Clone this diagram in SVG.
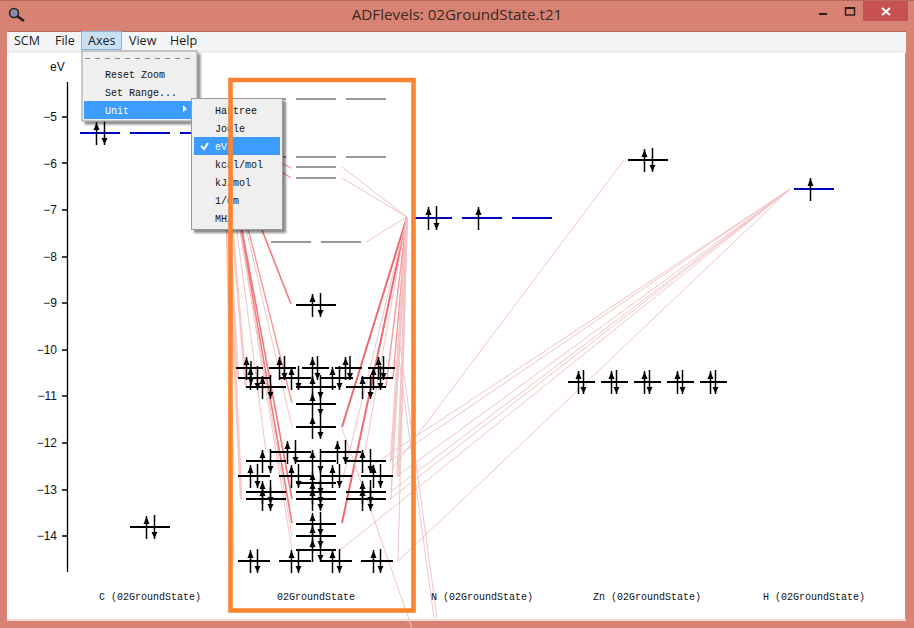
<svg xmlns="http://www.w3.org/2000/svg" width="914" height="628" viewBox="0 0 914 628">
<style>
.k{stroke:#000;stroke-width:2;fill:none;shape-rendering:crispEdges}
.b{stroke:#0000c0;stroke-width:2;fill:none;shape-rendering:crispEdges}
.g{stroke:#999;stroke-width:2;fill:none;shape-rendering:crispEdges}
.ax{stroke:#000;stroke-width:1.3;fill:none}
.r{stroke:#ee6a70;stroke-width:2;fill:none}
.l{stroke:#f0787e;stroke-width:1.6;fill:none}
.m{stroke:#f4999c;stroke-width:1.4;fill:none}
.p{stroke:#f9c8c8;stroke-width:2.5;fill:none}
.t{stroke:#f0c4c4;stroke-width:1;fill:none}
.ui{font:12.5px "Open Sans","Liberation Sans",sans-serif;fill:#1a1a1a}
.tk{font:12px "Liberation Sans",sans-serif;fill:#111;text-anchor:end}
.mn{font:10px "Liberation Mono",monospace;fill:#111}
.ml{font:10px "Liberation Mono",monospace;fill:#111}
</style>
<defs>
<g id="u"><path d="M0-11V12" stroke="#000" stroke-width="1.5"/><path d="M0-10.5L3-3H-3Z" fill="#000"/></g>
<g id="d"><path d="M0-12V12" stroke="#000" stroke-width="1.5"/><path d="M0 11.5L3 5H-3Z" fill="#000"/></g>
<filter id="sh" x="-10%" y="-10%" width="125%" height="125%"><feDropShadow dx="3" dy="3" stdDeviation="1.2" flood-color="#000" flood-opacity=".45"/></filter>
</defs>

<rect width="914" height="628" fill="#d78272"/>
<rect width="914" height="1" fill="#b56a5c"/>
<rect x="7" y="31" width="899" height="1" fill="#b56a5c"/>
<rect x="7" y="32" width="899" height="18" fill="#f4f5f6"/>
<rect x="7" y="50" width="899" height="3" fill="#efefef"/>
<rect x="7" y="53" width="898" height="566" fill="#fff"/>
<rect x="7" y="619" width="899" height="2" fill="#f3d9d3"/>

<g id="titlebar">
<circle cx="14" cy="13" r="4.5" fill="#8a8aa8" stroke="#222" stroke-width="1.5"/>
<path d="M17 16L24 21" stroke="#222" stroke-width="2.6"/>
<text x="457" y="20" text-anchor="middle" font-family="Open Sans,Liberation Sans,sans-serif" font-size="15.2" fill="#3b2a26">ADFlevels: 02GroundState.t21</text>
<rect x="819" y="13" width="8" height="2" fill="#2b1a16"/>
<rect x="845.5" y="8" width="9" height="7" fill="none" stroke="#2b1a16" stroke-width="1.4"/>
<rect x="845" y="7" width="10" height="2" fill="#2b1a16"/>
<rect x="863" y="1" width="45" height="20" fill="#c75050"/>
<path d="M882 8L890 15M890 8L882 15" stroke="#fff" stroke-width="2"/>
</g>

<g id="axis">
<path class="ax" d="M67.5 82V572M62 117H67M62 163H67M62 210H67M62 257H67M62 303H67M62 350H67M62 396H67M62 443H67M62 490H67M62 536H67"/>
<text x="50" y="71" font-family="Liberation Sans,sans-serif" font-size="12" fill="#111">eV</text>
<text class="tk" x="57" y="121">−5</text><text class="tk" x="57" y="168">−6</text><text class="tk" x="57" y="214">−7</text><text class="tk" x="57" y="261">−8</text><text class="tk" x="57" y="307">−9</text>
<text class="tk" x="57" y="354">−10</text><text class="tk" x="57" y="400">−11</text><text class="tk" x="57" y="447">−12</text><text class="tk" x="57" y="494">−13</text><text class="tk" x="57" y="540">−14</text>
</g>

<g id="connectors">
<path class="r" d="M407 217L342 427M407 217L342 523"/>
<path class="l" d="M224 133L291 304M224 133L292 523M224 133L292 499"/>
<path class="m" d="M224 133L292 403M224 133L291 168M224 133L291 178M407 217L397 368M407 217L393 378M407 217L386 387"/>
<path class="p" d="M224 133L241 492M224 133L241 499M224 133L234 368M224 133L238 378M224 133L246 387M407 217L399 477M407 217L397 377M407 217L391 461"/>
<path class="t" d="M224 133L292 427M224 133L266 452M224 133L292 550M224 133L292 536M224 133L234 561M224 133L234 476M407 217L342 167M407 217L342 178M407 217L366 242M407 217L365 452M407 217L342 482M407 217L398 561M407 217L391 492M407 217L391 499M407 217L397 476M624 160L392 469M790 189L398 561M790 189L340 550M790 189L390 461M790 189L397 476M790 189L390 492M790 189L356 476M790 189L390 499M397 345L434 618M400 345L437 618M342 428L412 628"/>
</g>

<g id="c-levels">
<g id="c1"><path class="b" d="M80 133H120"/><use href="#u" x="96.5" y="133"/><use href="#d" x="104.5" y="133"/></g>
<g id="c2"><path class="b" d="M130 133H170"/></g>
<g id="c3"><path class="b" d="M180 133H220"/></g>
<g id="c4"><path class="k" d="M130 527H170"/><use href="#u" x="146.5" y="527"/><use href="#d" x="154.5" y="527"/></g>
</g>

<g id="o2-empty">
<path class="g" d="M246 99H286M296 99H336M346 99H386M246 157H286M296 157H336M346 157H386M296 167H336M296 178H336M271 242H311M321 242H361"/>
</g>

<g id="o2-occupied">
<g id="a0"><path class="k" d="M296 305H336"/><use href="#u" x="312.5" y="305"/><use href="#d" x="320.5" y="305"/></g>
<g id="a1"><path class="k" d="M236 368H263"/><use href="#u" x="246.5" y="368"/><use href="#d" x="251" y="373"/></g>
<g id="a2"><path class="k" d="M238 378H270"/><use href="#u" x="250.5" y="378"/><use href="#d" x="257.5" y="378"/></g>
<g id="a3"><path class="k" d="M246 387H286"/><use href="#u" x="262.5" y="387"/><use href="#d" x="270.5" y="387"/></g>
<g id="a4"><path class="k" d="M269 368H296"/><use href="#u" x="279.5" y="368"/><use href="#d" x="284.5" y="368"/></g>
<g id="a5"><path class="k" d="M279 378H311"/><use href="#u" x="291.5" y="378"/><use href="#d" x="298.5" y="378"/></g>
<g id="a6"><path class="k" d="M302 368H329"/><use href="#u" x="312.5" y="368"/><use href="#d" x="317.5" y="368"/></g>
<g id="a7"><path class="k" d="M296 387H336"/><use href="#u" x="312.5" y="387"/><use href="#d" x="320.5" y="387"/></g>
<g id="a8"><path class="k" d="M321 378H353"/><use href="#u" x="332.5" y="378"/><use href="#d" x="339.5" y="378"/></g>
<g id="a9"><path class="k" d="M335 368H362"/><use href="#u" x="345.5" y="368"/><use href="#d" x="350" y="368"/></g>
<g id="a10"><path class="k" d="M346 387H386"/><use href="#u" x="362.5" y="387"/><use href="#d" x="370.5" y="387"/></g>
<g id="a11"><path class="k" d="M368 368H395"/><use href="#u" x="378.5" y="368"/><use href="#d" x="383.5" y="368"/></g>
<g id="a12"><path class="k" d="M361 378H393"/><use href="#u" x="373.5" y="378"/><use href="#d" x="380.5" y="378"/></g>
<g id="a13"><path class="k" d="M296 404H336"/><use href="#u" x="312.5" y="404"/><use href="#d" x="320.5" y="404"/></g>
<g id="a14"><path class="k" d="M296 427H336"/><use href="#u" x="312.5" y="427"/><use href="#d" x="320.5" y="427"/></g>
<g id="a15"><path class="k" d="M270 452H311"/><use href="#u" x="287.5" y="452"/><use href="#d" x="295.5" y="452"/></g>
<g id="a16"><path class="k" d="M321 452H361"/><use href="#u" x="337.5" y="452"/><use href="#d" x="345.5" y="452"/></g>
<g id="a17"><path class="k" d="M246 461H286"/><use href="#u" x="262.5" y="461"/><use href="#d" x="270.5" y="461"/></g>
<g id="a18"><path class="k" d="M296 461H336"/><use href="#u" x="312.5" y="461"/><use href="#d" x="320.5" y="461"/></g>
<g id="a19"><path class="k" d="M346 461H386"/><use href="#u" x="362.5" y="461"/><use href="#d" x="370.5" y="461"/></g>
<g id="a20"><path class="k" d="M238 476H270"/><use href="#u" x="250.5" y="476"/><use href="#d" x="257.5" y="476"/></g>
<g id="a21"><path class="k" d="M279 476H311"/><use href="#u" x="291.5" y="476"/><use href="#d" x="298.5" y="476"/></g>
<g id="a22"><path class="k" d="M321 476H352"/><use href="#u" x="332.5" y="476"/><use href="#d" x="339.5" y="476"/></g>
<g id="a23"><path class="k" d="M361 476H393"/><use href="#u" x="373.5" y="476"/><use href="#d" x="380.5" y="476"/></g>
<g id="a24"><path class="k" d="M296 483H336"/><use href="#u" x="312.5" y="483"/><use href="#d" x="320.5" y="483"/></g>
<g id="a25"><path class="k" d="M246 492H286"/><use href="#u" x="262.5" y="492"/><use href="#d" x="270.5" y="492"/></g>
<g id="a26"><path class="k" d="M246 499H286"/><use href="#u" x="262.5" y="499"/><use href="#d" x="270.5" y="499"/></g>
<g id="a27"><path class="k" d="M296 492H336"/><use href="#u" x="312.5" y="492"/><use href="#d" x="320.5" y="492"/></g>
<g id="a28"><path class="k" d="M296 499H336"/><use href="#u" x="312.5" y="499"/><use href="#d" x="320.5" y="499"/></g>
<g id="a29"><path class="k" d="M346 492H386"/><use href="#u" x="362.5" y="492"/><use href="#d" x="370.5" y="492"/></g>
<g id="a30"><path class="k" d="M346 499H386"/><use href="#u" x="362.5" y="499"/><use href="#d" x="370.5" y="499"/></g>
<g id="a31"><path class="k" d="M296 524H336"/><use href="#u" x="312.5" y="524"/><use href="#d" x="320.5" y="524"/></g>
<g id="a32"><path class="k" d="M296 536H336"/><use href="#u" x="312.5" y="536"/><use href="#d" x="320.5" y="536"/></g>
<g id="a33"><path class="k" d="M296 550H336"/><use href="#u" x="312.5" y="550"/><use href="#d" x="320.5" y="550"/></g>
<g id="a34"><path class="k" d="M238 561H270"/><use href="#u" x="250.5" y="561"/><use href="#d" x="257.5" y="561"/></g>
<g id="a35"><path class="k" d="M279 561H311"/><use href="#u" x="291.5" y="561"/><use href="#d" x="298.5" y="561"/></g>
<g id="a36"><path class="k" d="M321 561H352"/><use href="#u" x="332.5" y="561"/><use href="#d" x="339.5" y="561"/></g>
<g id="a37"><path class="k" d="M361 561H393"/><use href="#u" x="373.5" y="561"/><use href="#d" x="380.5" y="561"/></g>
</g>

<g id="n-levels">
<g id="n1"><path class="b" d="M412 218H452"/><use href="#u" x="428.5" y="218"/><use href="#d" x="436.5" y="218"/></g>
<g id="n2"><path class="b" d="M462 218H502"/><use href="#u" x="478.5" y="218"/></g>
<g id="n3"><path class="b" d="M512 218H552"/></g>
</g>
<g id="zn-levels">
<g id="z0"><path class="k" d="M628 160H668"/><use href="#u" x="644.5" y="160"/><use href="#d" x="652.5" y="160"/></g>
<g id="z1"><path class="k" d="M568 382H595"/><use href="#u" x="578.5" y="382"/><use href="#d" x="583.5" y="382"/></g>
<g id="z2"><path class="k" d="M601 382H628"/><use href="#u" x="611.5" y="382"/><use href="#d" x="616.5" y="382"/></g>
<g id="z3"><path class="k" d="M634 382H661"/><use href="#u" x="644.5" y="382"/><use href="#d" x="649.5" y="382"/></g>
<g id="z4"><path class="k" d="M667 382H694"/><use href="#u" x="677.5" y="382"/><use href="#d" x="682.5" y="382"/></g>
<g id="z5"><path class="k" d="M700 382H727"/><use href="#u" x="710.5" y="382"/><use href="#d" x="715.5" y="382"/></g>
</g>
<g id="h-levels"><g id="h1"><path class="b" d="M794 189H834"/><use href="#u" x="810.5" y="189"/></g></g>

<g id="column-labels">
<text class="ml" x="99" y="600">C (02GroundState)</text>
<text class="ml" x="277" y="600">02GroundState</text>
<text class="ml" x="431" y="600">N (02GroundState)</text>
<text class="ml" x="593" y="600">Zn (02GroundState)</text>
<text class="ml" x="763" y="600">H (02GroundState)</text>
</g>

<g id="menubar">
<rect x="81.5" y="31.5" width="40" height="18" fill="#c8e0f4" stroke="#8cb4d8"/>
<text class="ui" x="14" y="45">SCM</text>
<text class="ui" x="55" y="45">File</text>
<text class="ui" x="88" y="45">Axes</text>
<text class="ui" x="129" y="45">View</text>
<text class="ui" x="170" y="45">Help</text>
</g>

<g id="axes-menu">
<rect x="82" y="51" width="115" height="70" fill="#efefef" stroke="#999" filter="url(#sh)"/>
<path d="M85 58.5H194" stroke="#888" stroke-dasharray="5 5" fill="none"/>
<rect x="84" y="101" width="108" height="18" fill="#3c9cff"/>
<text class="mn" x="105" y="78">Reset Zoom</text>
<text class="mn" x="105" y="96">Set Range...</text>
<text class="mn" x="105" y="114" style="fill:#fff">Unit</text>
<path d="M183 105L187 109L183 112Z" fill="#fff"/>
</g>
<g id="unit-menu">
<rect x="191.5" y="98.5" width="91" height="131" fill="#efefef" stroke="#999" filter="url(#sh)"/>
<rect x="194" y="137" width="86" height="18" fill="#3c9cff"/>
<path d="M201 146L204 149L208 143" stroke="#fff" stroke-width="2" fill="none"/>
<text class="mn" x="215" y="114">Hartree</text>
<text class="mn" x="215" y="132">Joule</text>
<text class="mn" x="215" y="150" style="fill:#fff">eV</text>
<text class="mn" x="215" y="168">kcal/mol</text>
<text class="mn" x="215" y="186">kJ/mol</text>
<text class="mn" x="215" y="204">1/cm</text>
<text class="mn" x="215" y="222">MHz</text>
</g>

<rect id="highlight-box" x="230.5" y="80" width="183" height="530.5" fill="none" stroke="#fd8530" stroke-width="4.6"/>
</svg>
